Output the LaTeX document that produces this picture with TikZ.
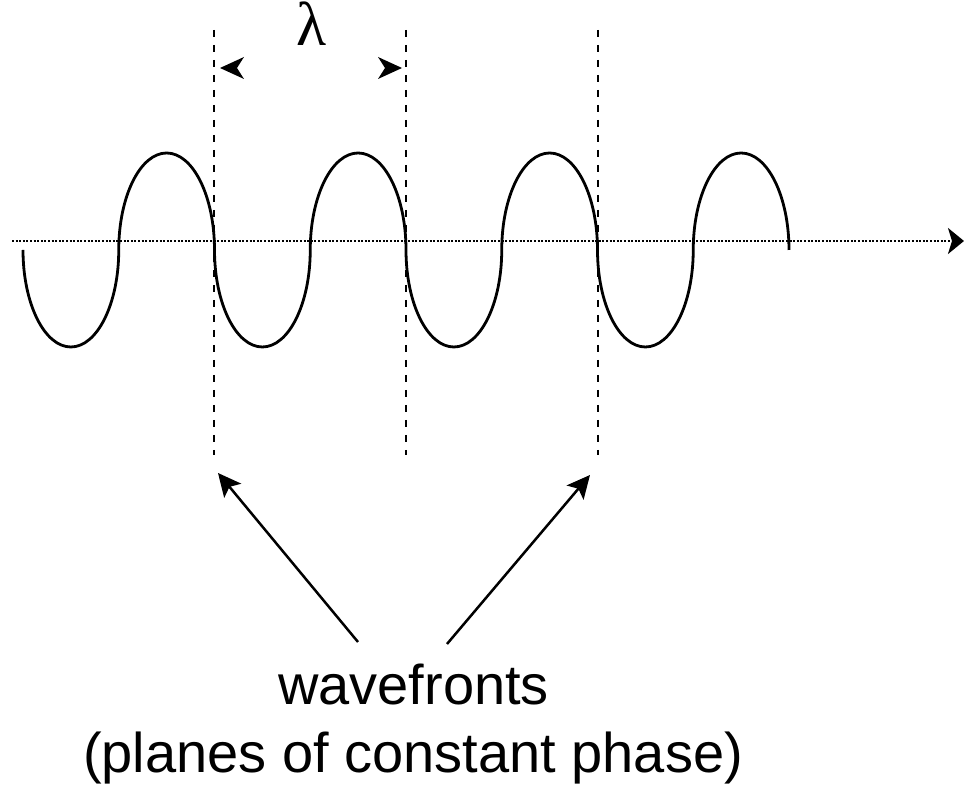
\documentclass[tikz,border=0pt]{standalone}
\usepackage{fontspec}
\setmainfont{Liberation Sans}
\newfontfamily\lamfont{Liberation Serif}
\usetikzlibrary{arrows.meta}
\begin{document}
\begin{tikzpicture}[x=1pt,y=1pt,
  wave/.style={line width=2.8pt, line cap=butt},
  front/.style={line width=2.4pt, dash pattern=on 7.5pt off 7.5pt},
  axisline/.style={line width=2.4pt, dash pattern=on 2pt off 1.6pt, -{Stealth[length=16pt,width=26pt,inset=4pt]}},
  headfill/.style={fill=black},
  pointer/.style={line width=2.5pt, -{Stealth[length=23pt,width=22pt,inset=5pt]}},
  label/.style={font=\fontsize{56}{67}\selectfont, inner sep=0pt, anchor=base}]
\useasboundingbox (0,0) rectangle (964,786);
% axis
\coordinate (ax0) at (12,545);
\coordinate (ax1) at (964,545);
\draw[axisline] (ax0) -- (ax1);
% wave
\draw[wave] (23,536)
  arc[start angle=180, end angle=360, x radius=47.875, y radius=97]
  arc[start angle=180, end angle=0,   x radius=47.875, y radius=97]
  arc[start angle=180, end angle=360, x radius=47.875, y radius=97]
  arc[start angle=180, end angle=0,   x radius=47.875, y radius=97]
  arc[start angle=180, end angle=360, x radius=47.875, y radius=97]
  arc[start angle=180, end angle=0,   x radius=47.875, y radius=97]
  arc[start angle=180, end angle=360, x radius=47.875, y radius=97]
  arc[start angle=180, end angle=0,   x radius=47.875, y radius=97];
% wavefronts
\coordinate (f1t) at (214,756); \coordinate (f1b) at (214,331);
\coordinate (f2t) at (406,756); \coordinate (f2b) at (406,331);
\coordinate (f3t) at (598,756); \coordinate (f3b) at (598,331);
\draw[front] (f1t) -- (f1b);
\draw[front] (f2t) -- (f2b);
\draw[front] (f3t) -- (f3b);
% lambda
\node[inner sep=0pt, anchor=base, text height=36pt, text depth=0pt, font=\lamfont\fontsize{62}{64}\selectfont] (lam) at (312,740) {λ};
\coordinate (lA) at (220,718);
\coordinate (lB) at (402,718);
\fill[headfill] (lA) -- ++(24,11) -- ++(-7,-11) -- ++(7,-11) -- cycle;
\fill[headfill] (lB) -- ++(-24,11) -- ++(7,-11) -- ++(-7,-11) -- cycle;
% labels
\node[label] (wf) at (413.5,81) {wavefronts};
\node[label] (pl) at (413,13) {(planes of constant phase)};
\coordinate (p1s) at (358,144); \coordinate (p1e) at (218,313);
\coordinate (p2s) at (447,142); \coordinate (p2e) at (590,311);
\draw[pointer] (p1s) -- (p1e);
\draw[pointer] (p2s) -- (p2e);
\end{tikzpicture}
\end{document}
